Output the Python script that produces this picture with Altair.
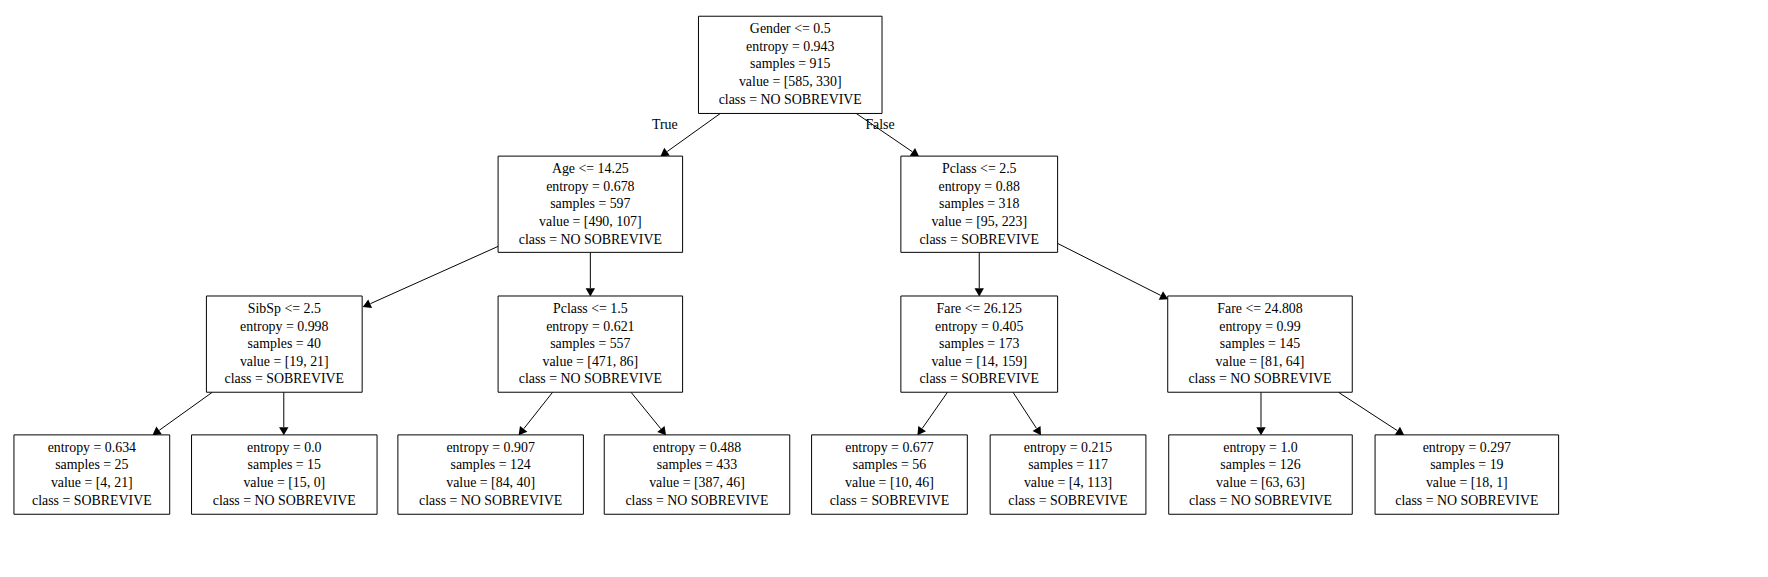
import math
import altair as alt
import pandas as pd

# node boxes in picture pixels: left, right, top, bottom
node_x0 = [695, 493, 899, 199, 493, 899, 1168, 5, 184, 392, 600, 809, 989, 1169, 1377]
node_x1 = [880, 679, 1057, 356, 679, 1057, 1354, 162, 371, 579, 787, 966, 1146, 1354, 1562]
node_y0 = [5, 146, 146, 287, 287, 287, 287, 427, 427, 427, 427, 427, 427, 427, 427]
node_y1 = [103, 243, 243, 384, 384, 384, 384, 507, 507, 507, 507, 507, 507, 507, 507]
node_text = [
    ["Gender <= 0.5", "entropy = 0.943", "samples = 915", "value = [585, 330]", "class = NO SOBREVIVE"],
    ["Age <= 14.25", "entropy = 0.678", "samples = 597", "value = [490, 107]", "class = NO SOBREVIVE"],
    ["Pclass <= 2.5", "entropy = 0.88", "samples = 318", "value = [95, 223]", "class = SOBREVIVE"],
    ["SibSp <= 2.5", "entropy = 0.998", "samples = 40", "value = [19, 21]", "class = SOBREVIVE"],
    ["Pclass <= 1.5", "entropy = 0.621", "samples = 557", "value = [471, 86]", "class = NO SOBREVIVE"],
    ["Fare <= 26.125", "entropy = 0.405", "samples = 173", "value = [14, 159]", "class = SOBREVIVE"],
    ["Fare <= 24.808", "entropy = 0.99", "samples = 145", "value = [81, 64]", "class = NO SOBREVIVE"],
    ["entropy = 0.634", "samples = 25", "value = [4, 21]", "class = SOBREVIVE"],
    ["entropy = 0.0", "samples = 15", "value = [15, 0]", "class = NO SOBREVIVE"],
    ["entropy = 0.907", "samples = 124", "value = [84, 40]", "class = NO SOBREVIVE"],
    ["entropy = 0.488", "samples = 433", "value = [387, 46]", "class = NO SOBREVIVE"],
    ["entropy = 0.677", "samples = 56", "value = [10, 46]", "class = SOBREVIVE"],
    ["entropy = 0.215", "samples = 117", "value = [4, 113]", "class = SOBREVIVE"],
    ["entropy = 1.0", "samples = 126", "value = [63, 63]", "class = NO SOBREVIVE"],
    ["entropy = 0.297", "samples = 19", "value = [18, 1]", "class = NO SOBREVIVE"],
]

# edges: start and end points in picture pixels
edge_x0 = [717, 854, 493, 586, 978, 1057, 205, 277, 548, 627, 946, 1012, 1262, 1340]
edge_y0 = [103, 103, 237, 243, 243, 234, 384, 384, 384, 384, 384, 384, 384, 384]
edge_x1 = [657, 917, 357, 586, 978, 1168, 145, 277, 514, 662, 916, 1040, 1262, 1406]
edge_y1 = [146, 146, 298, 287, 287, 290, 427, 427, 427, 427, 427, 427, 427, 427]

edge_labels = ["True", "False"]
edge_label_x = [661, 878]
edge_label_y = [115, 115]

FONT = "Liberation Serif"


def xs():
    return alt.Scale(domain=[8, 1760], range=[0, 1752])


def ys():
    return alt.Scale(domain=[8, 569], range=[0, 561])


boxes = pd.DataFrame({"x0": node_x0, "x1": node_x1, "y0": node_y0, "y1": node_y1})

lines = []
for i, txt in enumerate(node_text):
    for j, t in enumerate(txt):
        lines.append({"x": (node_x0[i] + node_x1[i]) / 2, "y": node_y0[i] + 13 + j * 17.8, "t": t})
lines = pd.DataFrame(lines)

edges = []
for a, b, c, d in zip(edge_x0, edge_y0, edge_x1, edge_y1):
    dx, dy = c - a, d - b
    L = math.hypot(dx, dy)
    ux, uy = dx / L, dy / L
    ang = math.degrees(math.atan2(dx, -dy)) % 360
    edges.append({"x0": a, "y0": b, "x1": c - ux * 8, "y1": d - uy * 8,
                  "ax": c - ux * 5, "ay": d - uy * 5, "ang": ang})
edges = pd.DataFrame(edges)
labels = pd.DataFrame({"x": edge_label_x, "y": edge_label_y, "t": edge_labels})

rect = alt.Chart(boxes).mark_rect(fill="white", stroke="black", strokeWidth=1).encode(
    x=alt.X("x0:Q", scale=xs(), axis=None), x2="x1:Q",
    y=alt.Y("y0:Q", scale=ys(), axis=None), y2="y1:Q")

text = alt.Chart(lines).mark_text(font=FONT, fontSize=14, color="black", baseline="middle").encode(
    x=alt.X("x:Q", scale=xs(), axis=None), y=alt.Y("y:Q", scale=ys(), axis=None), text="t:N")

rule = alt.Chart(edges).mark_rule(color="black", strokeWidth=1).encode(
    x=alt.X("x0:Q", scale=xs(), axis=None), x2="x1:Q",
    y=alt.Y("y0:Q", scale=ys(), axis=None), y2="y1:Q")

arrow = alt.Chart(edges).mark_point(shape="triangle", filled=True, color="black", size=90, opacity=1).encode(
    x=alt.X("ax:Q", scale=xs(), axis=None), y=alt.Y("ay:Q", scale=ys(), axis=None),
    angle=alt.Angle("ang:Q", scale=alt.Scale(domain=[0, 360], range=[0, 360])))

lab = alt.Chart(labels).mark_text(font=FONT, fontSize=14, color="black", baseline="middle").encode(
    x=alt.X("x:Q", scale=xs(), axis=None), y=alt.Y("y:Q", scale=ys(), axis=None), text="t:N")

chart = alt.layer(rule, arrow, rect, text, lab).properties(
    width=1752, height=561
).configure_view(strokeWidth=0)

chart.save("out.html", embed_options={"renderer": "svg", "actions": False})
